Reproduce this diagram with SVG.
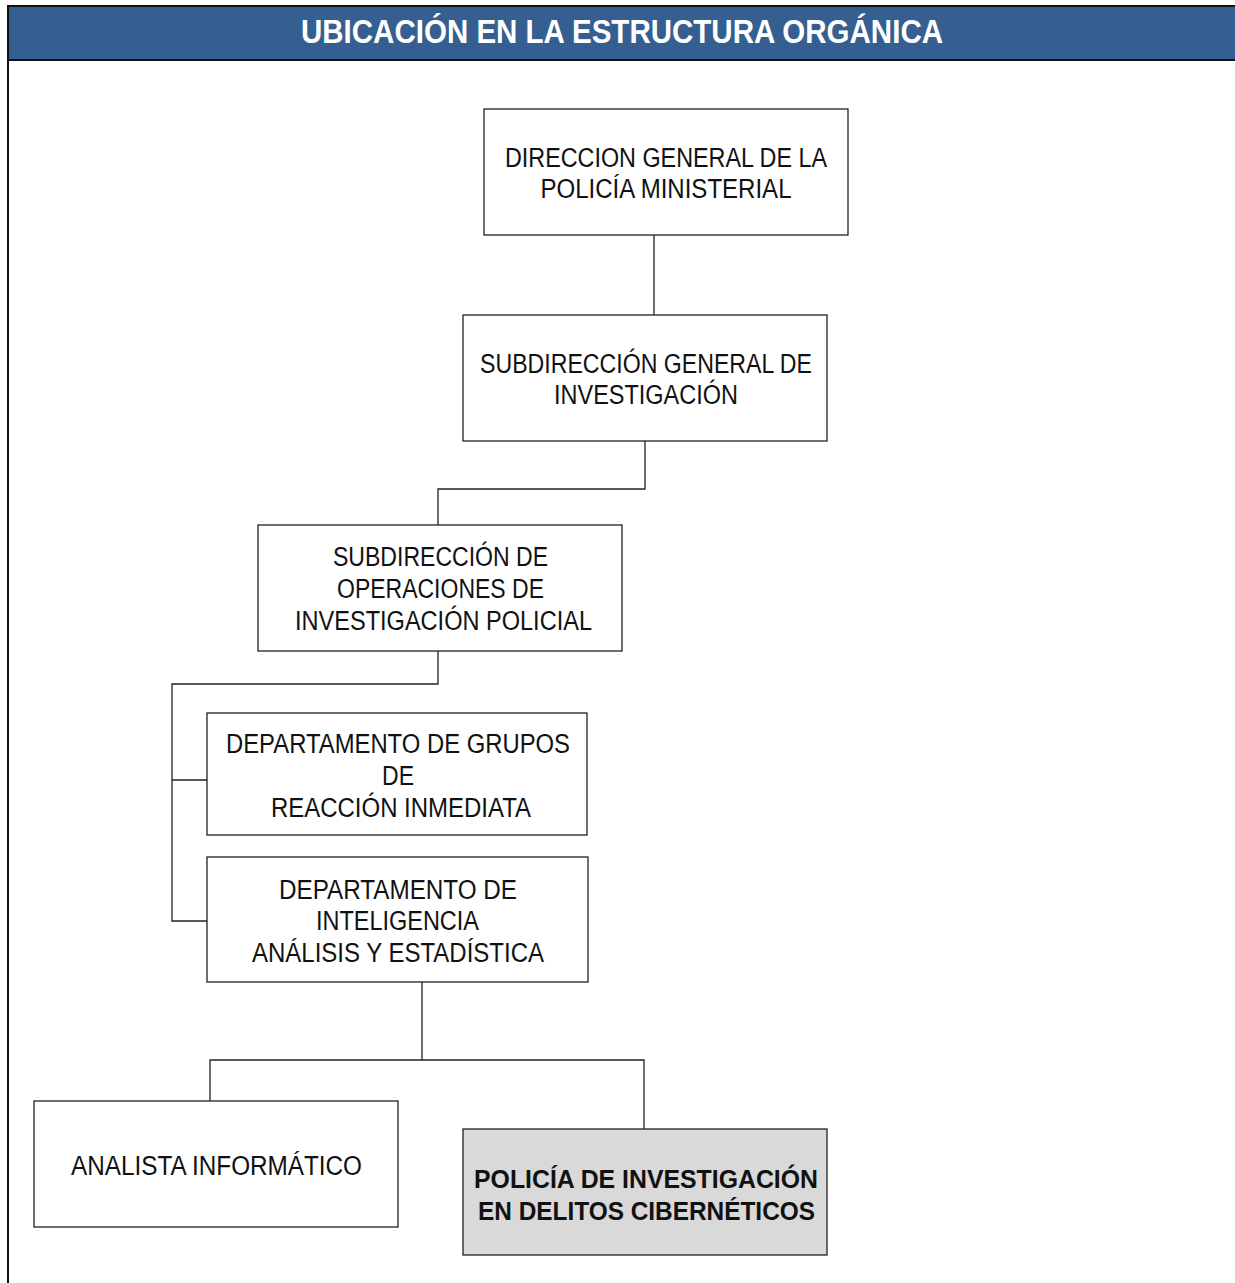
<svg xmlns="http://www.w3.org/2000/svg" width="1235" height="1283" viewBox="0 0 1235 1283">
  <style>
    .box { fill: #ffffff; stroke: #222222; stroke-width: 1.3; }
    .box.hl { fill: #d9d9d9; }
    .lbl { font-family: "Liberation Sans", Arial, sans-serif; font-size: 27px; fill: #111111; text-anchor: middle; }
    .lbl.b { font-weight: bold; font-size: 26px; }
    .title { font-family: "Liberation Sans", Arial, sans-serif; font-weight: bold; font-size: 33px; fill: #ffffff; text-anchor: middle; }
    .wire { fill: none; stroke: #222222; stroke-width: 1.3; }
  </style>

  <rect x="0" y="0" width="1235" height="1283" fill="#ffffff"/>

  <!-- header band and page frame -->
  <g id="header">
    <rect x="8" y="6" width="1227" height="54" fill="#365f91"/>
    <line x1="7" y1="6" x2="1235" y2="6" stroke="#111" stroke-width="2"/>
    <line x1="7" y1="60" x2="1235" y2="60" stroke="#111" stroke-width="2"/>
    <line x1="8" y1="5" x2="8" y2="1283" stroke="#111" stroke-width="2"/>
    <text class="title" x="622" y="43" textLength="642" lengthAdjust="spacingAndGlyphs">UBICACIÓN EN LA ESTRUCTURA ORGÁNICA</text>
  </g>

  <!-- connectors -->
  <g id="connectors">
    <path class="wire" d="M654 235 V315"/>
    <path class="wire" d="M645 441 V489 H438 V525"/>
    <path class="wire" d="M438 651 V684 H172 V921 H207"/>
    <path class="wire" d="M172 780 H207"/>
    <path class="wire" d="M422 982 V1060 H644 V1129"/>
    <path class="wire" d="M422 1060 H210 V1101"/>
  </g>

  <g id="n1">
    <rect class="box" x="484" y="109" width="364" height="126"/>
    <text class="lbl" x="666" y="167" textLength="322" lengthAdjust="spacingAndGlyphs">DIRECCION GENERAL DE LA</text>
    <text class="lbl" x="666" y="198" textLength="251" lengthAdjust="spacingAndGlyphs">POLICÍA MINISTERIAL</text>
  </g>

  <g id="n2">
    <rect class="box" x="463" y="315" width="364" height="126"/>
    <text class="lbl" x="646" y="373" textLength="332" lengthAdjust="spacingAndGlyphs">SUBDIRECCIÓN GENERAL DE</text>
    <text class="lbl" x="646" y="404" textLength="184" lengthAdjust="spacingAndGlyphs">INVESTIGACIÓN</text>
  </g>

  <g id="n3">
    <rect class="box" x="258" y="525" width="364" height="126"/>
    <text class="lbl" x="440.5" y="566" textLength="215" lengthAdjust="spacingAndGlyphs">SUBDIRECCIÓN DE</text>
    <text class="lbl" x="440.5" y="598" textLength="207" lengthAdjust="spacingAndGlyphs">OPERACIONES DE</text>
    <text class="lbl" x="443.5" y="630" textLength="297" lengthAdjust="spacingAndGlyphs">INVESTIGACIÓN POLICIAL</text>
  </g>

  <g id="n4">
    <rect class="box" x="207" y="713" width="380" height="122"/>
    <text class="lbl" x="398" y="753" textLength="344" lengthAdjust="spacingAndGlyphs">DEPARTAMENTO DE GRUPOS</text>
    <text class="lbl" x="398" y="785" textLength="32" lengthAdjust="spacingAndGlyphs">DE</text>
    <text class="lbl" x="401" y="817" textLength="260" lengthAdjust="spacingAndGlyphs">REACCIÓN INMEDIATA</text>
  </g>

  <g id="n5">
    <rect class="box" x="207" y="857" width="381" height="125"/>
    <text class="lbl" x="398" y="899" textLength="238" lengthAdjust="spacingAndGlyphs">DEPARTAMENTO DE</text>
    <text class="lbl" x="397.5" y="930" textLength="163" lengthAdjust="spacingAndGlyphs">INTELIGENCIA</text>
    <text class="lbl" x="398" y="962" textLength="292" lengthAdjust="spacingAndGlyphs">ANÁLISIS Y ESTADÍSTICA</text>
  </g>

  <g id="n6">
    <rect class="box" x="34" y="1101" width="364" height="126"/>
    <text class="lbl" x="216.5" y="1175" textLength="291" lengthAdjust="spacingAndGlyphs">ANALISTA INFORMÁTICO</text>
  </g>

  <g id="n7">
    <rect class="box hl" x="463" y="1129" width="364" height="126"/>
    <text class="lbl b" x="646" y="1188" textLength="344" lengthAdjust="spacingAndGlyphs">POLICÍA DE INVESTIGACIÓN</text>
    <text class="lbl b" x="646.5" y="1220" textLength="337" lengthAdjust="spacingAndGlyphs">EN DELITOS CIBERNÉTICOS</text>
  </g>
</svg>
